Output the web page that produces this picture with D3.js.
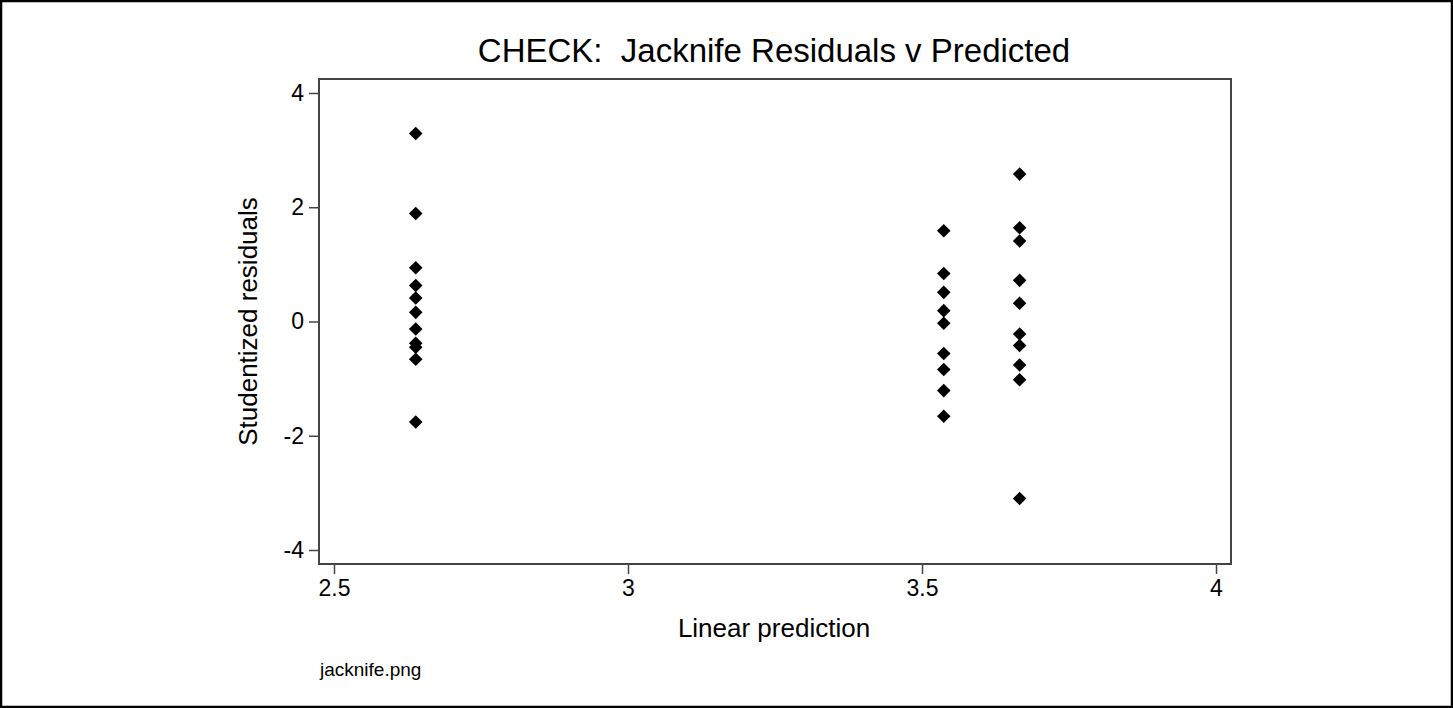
<!DOCTYPE html>
<html>
<head>
<meta charset="utf-8">
<script src="https://cdn.jsdelivr.net/npm/d3@7"></script>
<style>
html,body{margin:0;padding:0;background:#fff;}
svg{display:block;}
text{font-family:"Liberation Sans",Arial,Helvetica,sans-serif;fill:#000;white-space:pre;}
</style>
</head>
<body>
<script>
// Data
const predicted = [
  2.639,2.639,2.639,2.639,2.639,2.639,2.639,2.639,2.639,2.639,2.639,
  3.537,3.537,3.537,3.537,3.537,3.537,3.537,3.537,3.537,
  3.666,3.666,3.666,3.666,3.666,3.666,3.666,3.666,3.666,3.666
];
const residuals = [
  3.29,1.89,0.94,0.63,0.41,0.16,-0.13,-0.38,-0.45,-0.66,-1.76,
  1.59,0.84,0.51,0.19,-0.03,-0.56,-0.84,-1.21,-1.66,
  2.58,1.64,1.41,0.72,0.32,-0.22,-0.42,-0.76,-1.02,-3.10
];
const xTicks = [2.5, 3, 3.5, 4];
const yTicks = [-4, -2, 0, 2, 4];
const titleText = "CHECK:  Jacknife Residuals v Predicted";
const xLabel = "Linear prediction";
const yLabel = "Studentized residuals";
const noteText = "jacknife.png";

const W = 1453, H = 708;
const plot = {left: 319, right: 1231, top: 79, bottom: 564};

const svg = d3.select("body").append("svg").attr("width", W).attr("height", H);

// outer border
svg.append("rect").attr("x", 1).attr("y", 1).attr("width", W - 2).attr("height", H - 2)
  .attr("fill", "#fff").attr("stroke", "#000").attr("stroke-width", 2.5);

const x = d3.scaleLinear().domain([2.4745, 4.0255]).range([plot.left, plot.right]);
const y = d3.scaleLinear().domain([-4.245, 4.245]).range([plot.bottom, plot.top]);

// plot frame
svg.append("rect").attr("x", plot.left).attr("y", plot.top)
  .attr("width", plot.right - plot.left).attr("height", plot.bottom - plot.top)
  .attr("fill", "none").attr("stroke", "#444").attr("stroke-width", 2);

// axes
const fmt = d => String(d);
const xAxis = svg.append("g").attr("transform", `translate(0,${plot.bottom})`)
  .call(d3.axisBottom(x).tickValues(xTicks).tickSize(10).tickPadding(6).tickFormat(fmt));
const yAxis = svg.append("g").attr("transform", `translate(${plot.left},0)`)
  .call(d3.axisLeft(y).tickValues(yTicks).tickSize(10).tickPadding(5).tickFormat(fmt));
[xAxis, yAxis].forEach(g => {
  g.select(".domain").remove();
  g.selectAll(".tick line").attr("stroke", "#444").attr("stroke-width", 1.5);
  g.selectAll(".tick text").attr("font-size", 23).attr("fill", "#000")
    .style("font-family", '"Liberation Sans",Arial,sans-serif');
});

// points (diamonds)
const diamond = d3.symbol().type(d3.symbolSquare).size(92);
svg.append("g").selectAll("path").data(predicted.map((p, i) => [p, residuals[i]]))
  .join("path")
  .attr("d", diamond)
  .attr("transform", d => `translate(${x(d[0])},${y(d[1])}) rotate(45)`)
  .attr("fill", "#000");

// title
svg.append("text").attr("x", 774).attr("y", 62)
  .attr("text-anchor", "middle").attr("font-size", 33).text(titleText);

// axis titles
svg.append("text").attr("x", 774).attr("y", 637)
  .attr("text-anchor", "middle").attr("font-size", 26).text(xLabel);
svg.append("text").attr("transform", `translate(257,${(plot.top + plot.bottom) / 2}) rotate(-90)`)
  .attr("text-anchor", "middle").attr("font-size", 26).text(yLabel);

// note
svg.append("text").attr("x", 320).attr("y", 676).attr("font-size", 19).attr("fill", "#222").text(noteText);
</script>
</body>
</html>
